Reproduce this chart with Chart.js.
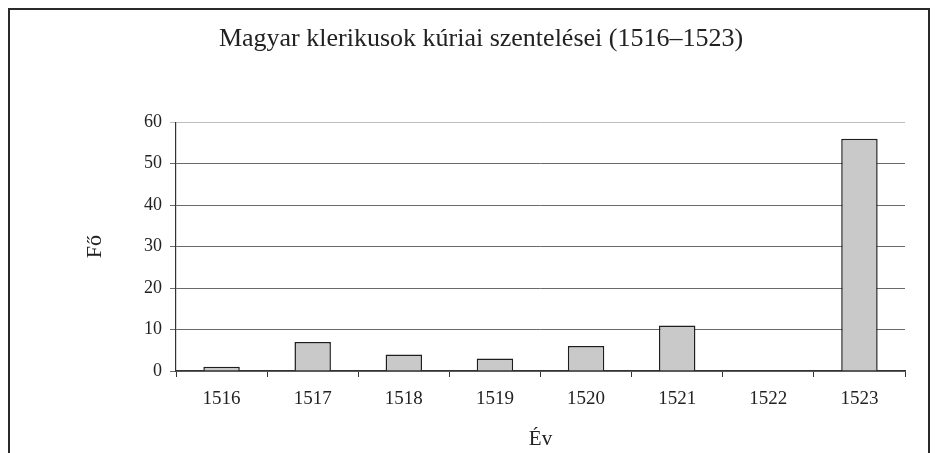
<!DOCTYPE html>
<html>
<head>
<meta charset="utf-8">
<script src="https://cdn.jsdelivr.net/npm/chart.js@4.4.1/dist/chart.umd.min.js"></script>
<style>
  html, body { margin: 0; padding: 0; background: #fff; }
  #wrap { position: relative; width: 939px; height: 453px; overflow: hidden; }
  #frame { position: absolute; left: 8px; top: 8px; width: 922px; height: 470px; border: 2px solid #2a2a2a; box-sizing: border-box; }
  canvas { position: absolute; left: 0; top: 0; }
</style>
</head>
<body>
<div id="wrap">
  <div id="frame"></div>
  <canvas id="myChart" width="939" height="453"></canvas>
</div>
<script>
// adatok
const years = ['1516', '1517', '1518', '1519', '1520', '1521', '1522', '1523'];
const counts = [1, 7, 4, 3, 6, 11, 0, 56];
const yTicks = [0, 10, 20, 30, 40, 50, 60];

const chartTitle = 'Magyar klerikusok kúriai szentelései (1516–1523)';
const serif = "'Liberation Serif', 'DejaVu Serif', serif";

const ctx = document.getElementById('myChart').getContext('2d');
const myChart = new Chart(ctx, {
  type: 'bar',
  data: {
    labels: years,
    datasets: [{
      label: 'Fő',
      data: counts,
      backgroundColor: '#c9c9c9',
      borderColor: '#1e1e1e',
      borderWidth: 1.5,
      borderSkipped: 'bottom',
      barPercentage: 0.4,
      categoryPercentage: 1
    }]
  },
  options: {
    responsive: false,
    animation: false,
    // bal padding -> cim kozepre tolasa
    layout: { padding: { left: 57, right: 34, top: 0, bottom: 0 } },
    plugins: {
      legend: { display: false },
      tooltip: { enabled: false },
      title: {
        display: true,
        text: chartTitle,
        color: '#222',
        font: { family: serif, size: 26, weight: 'normal' },
        padding: { top: 24, bottom: 67 }
      }
    },
    scales: {
      x: {
        offset: true,
        afterFit: function(scale) { scale.height = 82; },
        grid: {
          offset: true,
          drawOnChartArea: false,
          drawTicks: true,
          tickLength: 6,
          color: '#333'
        },
        border: { display: true, color: '#333', width: 1.2 },
        ticks: {
          color: '#222',
          padding: 11,
          font: { family: serif, size: 19 }
        },
        title: {
          display: true,
          text: 'Év',
          color: '#222',
          font: { family: serif, size: 21 },
          padding: { top: 0, bottom: 1 }
        }
      },
      y: {
        min: 0,
        max: 60,
        afterFit: function(scale) { scale.width = 119; },
        afterBuildTicks: function(scale) {
          scale.ticks = yTicks.map(v => ({ value: v }));
        },
        grid: {
          color: function(c) { return c.tick && c.tick.value === 60 ? '#bdbdbd' : '#6a6a6a'; },
          lineWidth: 1,
          drawTicks: true,
          tickLength: 6
        },
        border: { display: true, color: '#333', width: 1.2 },
        ticks: {
          color: '#222',
          padding: 8,
          font: { family: serif, size: 18 }
        },
        title: {
          display: true,
          text: 'Fő',
          color: '#222',
          font: { family: serif, size: 22 },
          padding: { top: 25, bottom: 0 }
        }
      }
    }
  }
});
</script>
</body>
</html>
